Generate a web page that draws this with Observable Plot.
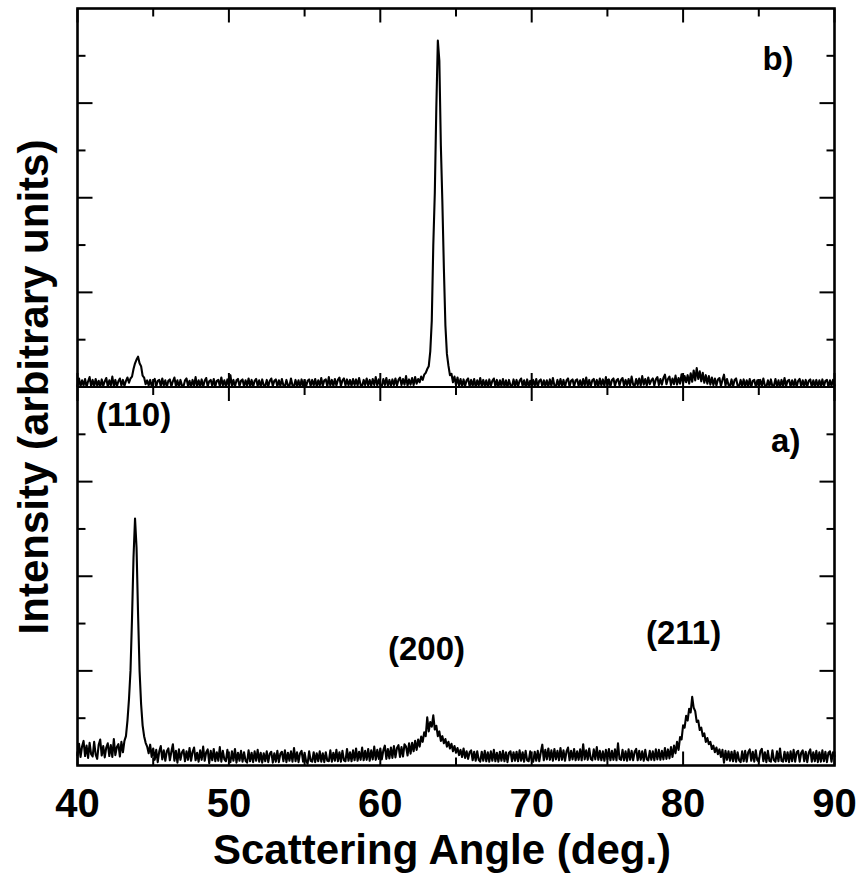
<!DOCTYPE html>
<html><head><meta charset="utf-8">
<script src="https://cdn.jsdelivr.net/npm/d3@7"></script>
<script src="https://cdn.jsdelivr.net/npm/@observablehq/plot@0.6"></script>
<style>html,body{margin:0;padding:0;background:#fff}#chart svg{display:block}</style>
</head><body><div id="chart"></div>
<script>
// Sampling grid of the scans (degrees)
const angleStart = 40, angleStep = 0.1;

// Panel a) intensity, 40.0 .. 90.0 deg, one row per degree
const intensityA = [
0.22,0.46,0.18,0.40,0.52,0.20,0.42,0.16,0.48,0.24,
0.19,0.50,0.23,0.14,0.44,0.55,0.21,0.41,0.17,0.38,
0.47,0.20,0.43,0.18,0.56,0.22,0.39,0.45,0.19,0.50,
0.28,0.52,0.62,0.95,1.40,2.00,3.10,4.40,5.22,4.60,
3.20,2.00,1.30,0.85,0.62,0.48,0.40,0.26,0.44,0.18,
0.36,0.12,0.33,0.07,0.30,0.41,0.13,0.32,0.10,0.30,
0.36,0.11,0.29,0.45,0.10,0.31,0.06,0.34,0.12,0.28,
0.33,0.09,0.30,0.12,0.37,0.10,0.29,0.38,0.11,0.27,
0.08,0.32,0.12,0.40,0.10,0.28,0.34,0.05,0.31,0.11,
0.35,0.09,0.28,0.10,0.39,0.08,0.31,0.13,0.09,0.33,
0.11,0.07,0.30,0.10,0.35,0.06,0.27,0.10,0.31,0.08,
0.28,0.10,0.06,0.32,0.09,0.27,0.07,0.30,0.10,0.33,
0.08,0.27,0.06,0.26,0.09,0.30,0.07,0.25,0.29,0.06,
0.26,0.08,0.31,0.07,0.25,0.29,0.09,0.32,0.07,0.27,
0.10,0.30,0.08,0.37,0.09,0.28,0.07,0.26,0.31,0.08,
0.27,0.09,0.04,0.30,0.10,0.08,0.28,0.07,0.26,0.09,
0.30,0.08,0.26,0.07,0.28,0.10,0.09,0.32,0.08,0.27,
0.10,0.33,0.09,0.28,0.08,0.31,0.11,0.09,0.35,0.10,
0.28,0.09,0.32,0.11,0.36,0.10,0.29,0.12,0.38,0.11,
0.31,0.12,0.35,0.10,0.32,0.13,0.40,0.12,0.33,0.14,
0.36,0.13,0.32,0.42,0.14,0.35,0.15,0.38,0.16,0.41,
0.17,0.37,0.43,0.18,0.39,0.19,0.45,0.40,0.21,0.47,
0.25,0.48,0.30,0.52,0.33,0.55,0.40,0.61,0.50,0.70,
0.62,1.02,0.72,0.92,0.82,1.06,0.76,0.84,0.62,0.72,
0.52,0.62,0.47,0.56,0.40,0.50,0.36,0.46,0.30,0.41,
0.27,0.37,0.22,0.33,0.18,0.36,0.16,0.30,0.14,0.28,
0.32,0.11,0.29,0.10,0.30,0.12,0.08,0.29,0.10,0.31,
0.09,0.28,0.08,0.30,0.10,0.33,0.09,0.27,0.08,0.29,
0.10,0.31,0.09,0.28,0.07,0.27,0.30,0.09,0.28,0.10,
0.29,0.09,0.32,0.10,0.28,0.08,0.31,0.11,0.09,0.30,
0.11,0.08,0.29,0.10,0.31,0.09,0.28,0.44,0.11,0.33,
0.13,0.36,0.12,0.32,0.10,0.35,0.13,0.31,0.11,0.37,
0.12,0.32,0.10,0.30,0.38,0.11,0.31,0.13,0.35,0.11,
0.30,0.12,0.34,0.11,0.45,0.13,0.32,0.12,0.36,0.14,
0.11,0.34,0.13,0.39,0.12,0.31,0.11,0.30,0.10,0.33,
0.13,0.35,0.11,0.31,0.12,0.34,0.11,0.47,0.14,0.12,
0.33,0.11,0.30,0.10,0.34,0.12,0.31,0.11,0.29,0.35,
0.11,0.31,0.12,0.30,0.10,0.33,0.13,0.11,0.31,0.12,
0.30,0.11,0.34,0.13,0.33,0.12,0.31,0.13,0.37,0.14,
0.34,0.15,0.39,0.18,0.42,0.26,0.50,0.33,0.60,0.55,
0.85,0.80,1.05,0.95,1.20,1.12,1.45,1.22,1.15,0.92,
0.95,0.75,0.80,0.62,0.68,0.50,0.58,0.45,0.50,0.35,
0.42,0.28,0.38,0.24,0.34,0.18,0.33,0.06,0.31,0.12,
0.30,0.10,0.29,0.09,0.31,0.08,0.28,0.11,0.07,0.30,
0.09,0.31,0.08,0.28,0.34,0.10,0.29,0.08,0.32,0.11,
0.08,0.30,0.35,0.09,0.28,0.07,0.31,0.10,0.08,0.32,
0.11,0.08,0.30,0.09,0.36,0.10,0.08,0.29,0.09,0.28,
0.07,0.30,0.09,0.33,0.08,0.28,0.31,0.08,0.27,0.32,
0.09,0.29,0.07,0.27,0.34,0.08,0.28,0.09,0.31,0.07,
0.28,0.08,0.32,0.09,0.29,0.07,0.27,0.30,0.08,0.28,
0.20
];

// Panel b) intensity, 40.0 .. 90.0 deg, one row per degree
const intensityB = [
0.02,0.18,0.01,0.14,0.03,0.17,0.00,0.12,0.21,0.02,
0.15,0.01,0.17,0.03,0.13,0.00,0.16,0.02,0.12,0.19,
0.01,0.14,0.03,0.22,0.02,0.15,0.01,0.12,0.18,0.03,
0.15,0.02,0.13,0.20,0.09,0.18,0.22,0.38,0.50,0.58,
0.64,0.50,0.44,0.24,0.20,0.06,0.14,0.03,0.15,0.02,
0.12,0.17,0.01,0.13,0.15,0.02,0.18,0.03,0.14,0.00,
0.13,0.16,0.01,0.12,0.20,0.02,0.14,0.00,0.15,0.03,
0.01,0.14,0.18,0.02,0.13,0.00,0.15,0.03,0.21,0.01,
0.14,0.02,0.16,0.00,0.13,0.19,0.01,0.12,0.15,0.02,
0.17,0.01,0.13,0.15,0.02,0.20,0.03,0.14,0.01,0.16,
0.03,0.25,0.02,0.15,0.01,0.14,0.17,0.02,0.13,0.16,
0.01,0.14,0.03,0.18,0.02,0.15,0.00,0.13,0.17,0.02,
0.14,0.01,0.16,0.03,0.02,0.15,0.01,0.13,0.18,0.02,
0.13,0.16,0.01,0.14,0.02,0.17,0.03,0.01,0.15,0.03,
0.02,0.18,0.03,0.01,0.15,0.02,0.14,0.00,0.16,0.02,
0.14,0.01,0.13,0.16,0.02,0.15,0.03,0.17,0.01,0.14,
0.03,0.19,0.02,0.14,0.16,0.01,0.21,0.03,0.15,0.02,
0.17,0.03,0.15,0.20,0.02,0.14,0.18,0.03,0.16,0.04,
0.15,0.02,0.17,0.04,0.16,0.03,0.19,0.04,0.02,0.15,
0.04,0.18,0.03,0.15,0.02,0.17,0.04,0.21,0.03,0.16,
0.04,0.02,0.17,0.04,0.19,0.03,0.15,0.02,0.16,0.04,
0.18,0.03,0.15,0.20,0.04,0.17,0.05,0.23,0.03,0.16,
0.05,0.19,0.04,0.21,0.07,0.17,0.10,0.22,0.15,0.26,
0.30,0.38,0.44,0.75,1.40,3.00,4.10,5.90,7.32,6.90,
5.10,3.90,2.50,1.30,0.70,0.45,0.25,0.28,0.10,0.22,
0.04,0.20,0.03,0.17,0.01,0.16,0.02,0.14,0.18,0.01,
0.15,0.02,0.17,0.00,0.14,0.03,0.19,0.01,0.15,0.02,
0.14,0.00,0.16,0.02,0.13,0.18,0.01,0.15,0.00,0.14,
0.02,0.17,0.01,0.14,0.00,0.15,0.03,0.01,0.16,0.02,
0.15,0.01,0.13,0.18,0.02,0.14,0.00,0.16,0.01,0.13,
0.01,0.15,0.02,0.17,0.00,0.13,0.16,0.01,0.14,0.02,
0.14,0.01,0.16,0.02,0.19,0.03,0.01,0.15,0.02,0.17,
0.02,0.15,0.00,0.14,0.18,0.01,0.13,0.16,0.01,0.14,
0.16,0.02,0.14,0.01,0.17,0.03,0.20,0.02,0.15,0.01,
0.14,0.17,0.02,0.15,0.01,0.18,0.03,0.16,0.02,0.21,
0.03,0.16,0.01,0.15,0.18,0.02,0.14,0.17,0.03,0.15,
0.19,0.02,0.15,0.04,0.17,0.03,0.22,0.05,0.02,0.17,
0.04,0.18,0.03,0.23,0.05,0.17,0.03,0.20,0.06,0.14,
0.18,0.03,0.16,0.21,0.04,0.17,0.05,0.19,0.26,0.06,
0.17,0.22,0.04,0.18,0.06,0.24,0.05,0.19,0.07,0.27,
0.08,0.23,0.10,0.25,0.07,0.29,0.11,0.35,0.14,0.40,
0.17,0.33,0.12,0.30,0.09,0.25,0.07,0.23,0.05,0.20,
0.04,0.18,0.03,0.16,0.19,0.02,0.15,0.26,0.03,0.17,
0.04,0.02,0.16,0.01,0.15,0.18,0.03,0.01,0.15,0.02,
0.16,0.01,0.14,0.02,0.17,0.00,0.13,0.15,0.01,0.14,
0.02,0.15,0.01,0.18,0.03,0.00,0.14,0.02,0.16,0.01,
0.03,0.17,0.01,0.14,0.00,0.15,0.02,0.19,0.01,0.13,
0.15,0.01,0.14,0.02,0.16,0.00,0.13,0.17,0.01,0.14,
0.02,0.15,0.01,0.13,0.16,0.00,0.14,0.02,0.15,0.01,
0.14,0.02,0.16,0.01,0.13,0.15,0.00,0.14,0.02,0.15,
0.03
];

// Axes
const xTickLabels = [40, 50, 60, 70, 80, 90];
const xMinorTicks = [45, 55, 65, 75, 85];
const panelSpan = 8;              // y units per panel
const yMajorTicks = [2, 4, 6, 10, 12, 14];
const yMinorTicks = [1, 3, 5, 7, 9, 11, 13, 15];
const xLabel = "Scattering Angle (deg.)";
const yLabel = "Intensity (arbitrary units)";

// Annotations (angle, height on the stacked scale)
const peakLabels  = ["(110)", "(200)", "(211)"];
const peakAngles  = [43.7, 63.05, 80.03];
const peakHeights = [7.17, 2.24, 2.56];
const panelLabels = ["b)", "a)"];
const panelLabelAngles  = [87.3, 87.75];
const panelLabelHeights = [14.71, 6.62];

const rows = [];
intensityA.forEach((v, i) => rows.push({angle: +(angleStart + i * angleStep).toFixed(1), value: v, panel: "a"}));
intensityB.forEach((v, i) => rows.push({angle: +(angleStart + i * angleStep).toFixed(1), value: v + panelSpan, panel: "b"}));

const seg = (dx, dy) => ({draw(ctx, size) { const l = Math.sqrt(size / Math.PI); ctx.moveTo(0, 0); ctx.lineTo(dx * l, dy * l); }});
const up = seg(0, -1), down = seg(0, 1), right = seg(1, 0), left = seg(-1, 0);
const tk = (data, x, y, symbol, r) => Plot.dot(data, {x, y, symbol, r, fill: "none", stroke: "black", strokeWidth: 2});

const font = "'Liberation Sans', Arial, Helvetica, sans-serif";

const chart = Plot.plot({
  width: 861, height: 878,
  marginLeft: 77, marginRight: 27, marginTop: 8, marginBottom: 113,
  x: {domain: [40, 90]},
  y: {domain: [0, 2 * panelSpan], axis: null},
  style: {fontFamily: font, background: "white", color: "black"},
  marks: [
    Plot.line(rows, {x: "angle", y: "value", z: "panel", stroke: "black", strokeWidth: 2.1, strokeLinejoin: "round"}),
    // x ticks: bottom, middle (both directions), top
    tk(xTickLabels, d => d, () => 0, up, 14),
    tk(xMinorTicks, d => d, () => 0, up, 8),
    tk(xTickLabels, d => d, () => panelSpan, up, 14),
    tk(xMinorTicks, d => d, () => panelSpan, up, 8),
    tk(xTickLabels, d => d, () => panelSpan, down, 14),
    tk(xMinorTicks, d => d, () => panelSpan, down, 8),
    tk(xTickLabels, d => d, () => 2 * panelSpan, down, 14),
    tk(xMinorTicks, d => d, () => 2 * panelSpan, down, 8),
    // y ticks: left and right
    tk(yMajorTicks, () => 40, d => d, right, 15),
    tk(yMinorTicks, () => 40, d => d, right, 8),
    tk(yMajorTicks, () => 90, d => d, left, 15),
    tk(yMinorTicks, () => 90, d => d, left, 8),
    Plot.ruleY([panelSpan], {stroke: "black", strokeWidth: 2.2}),
    Plot.frame({stroke: "black", strokeWidth: 2.6}),
    Plot.axisX({ticks: xTickLabels, anchor: "bottom", tickSize: 0, tickPadding: 23, fontSize: 40, fontWeight: "bold", label: null, fill: "black"}),
    Plot.text([xLabel], {text: d => d, frameAnchor: "bottom", dy: 98, dx: -14, textAnchor: "middle", lineAnchor: "bottom", fontSize: 42, fontWeight: "bold", fill: "black"}),
    Plot.text([yLabel], {text: d => d, frameAnchor: "left", dx: -30, rotate: -90, textAnchor: "middle", lineAnchor: "bottom", fontSize: 42, fontWeight: "bold", fill: "black"}),
    Plot.text(peakLabels, {x: (d, i) => peakAngles[i], y: (d, i) => peakHeights[i], text: d => d, lineAnchor: "bottom", fontSize: 33, fontWeight: "bold", fill: "black"}),
    Plot.text(panelLabels, {x: (d, i) => panelLabelAngles[i], y: (d, i) => panelLabelHeights[i], text: d => d, textAnchor: "end", lineAnchor: "bottom", fontSize: 33, fontWeight: "bold", fill: "black"})
  ]
});
document.getElementById("chart").appendChild(chart);
</script>
</body></html>
